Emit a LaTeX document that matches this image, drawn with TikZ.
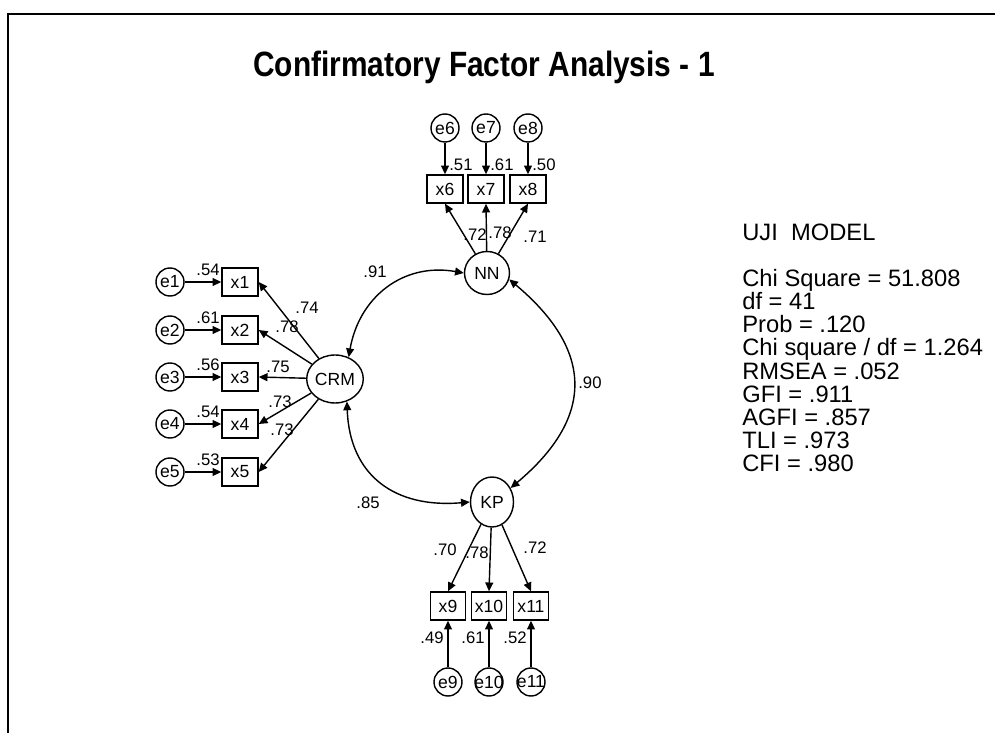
\documentclass[tikz,border=0pt]{standalone}
\usepackage{fontspec}
\setmainfont{Liberation Sans}
\newfontfamily\titlefont[FakeStretch=0.85]{Liberation Sans}
\usetikzlibrary{arrows.meta, positioning, shapes.geometric}

\tikzset{
  latent/.style={draw, ellipse, line width=0.8pt, inner sep=0pt, font=\fontsize{10}{12}\selectfont},
  indic/.style={draw, rectangle, line width=0.8pt, minimum width=0.72cm, minimum height=0.56cm, inner sep=0pt, font=\fontsize{10}{12}\selectfont},
  errc/.style={draw, circle, line width=0.8pt, minimum size=0.56cm, inner sep=0pt, font=\fontsize{10}{12}\selectfont},
  load/.style={-{Triangle[length=5pt,width=4.5pt]}, line width=0.8pt},
  cov/.style={{Triangle[length=5pt,width=4.5pt]}-{Triangle[length=5pt,width=4.5pt]}, line width=0.8pt},
  lbl/.style={font=\fontsize{9.5}{10}\selectfont, inner sep=0pt},
}

\begin{document}
\begin{tikzpicture}[x=0.02cm, y=-0.02cm]
\useasboundingbox (0,0) rectangle (995,733);

%frame
\draw[line width=1.2pt] (8,733) -- (8,14) -- (995,14);

%title
\node[anchor=base, inner sep=0pt, font=\titlefont\bfseries\fontsize{20}{24}\selectfont] (title) at (484,77) {Confirmatory Factor Analysis - 1};

%latent variables
\node[latent, minimum width=1.0cm, minimum height=0.96cm] (CRM) at (335,379) {CRM};
\node[latent, minimum width=0.9cm, minimum height=0.86cm] (NN) at (487,273) {NN};
\node[latent, minimum width=0.86cm, minimum height=1.0cm] (KP) at (492,502) {KP};

%CRM indicators
\foreach \i/\y/\l in {1/282/.54, 2/330/.61, 3/377/.56, 4/424/.54, 5/472/.53} {
  \node[errc] (e\i) at (170,\y) {\makebox[0pt]{e\i}};
  \node[indic] (x\i) at (240,\y) {x\i};
  \draw[load] (e\i) -- (x\i);
  \draw[load] (CRM) -- (x\i.east);
  \node[lbl] (r\i) at (208,\y-12) {\l};
}
\node[lbl] (l1) at (307,308) {.74};
\node[lbl] (l2) at (287,327) {.78};
\node[lbl] (l3) at (278,367) {.75};
\node[lbl] (l4) at (280,402) {.73};
\node[lbl] (l5) at (282,430) {.73};

%NN indicators
\foreach \i/\x/\l in {6/445/.51, 7/486/.61, 8/528/.50} {
  \node[errc] (e\i) at (\x,128) {\makebox[0pt]{e\i}};
  \node[indic] (x\i) at (\x,189) {x\i};
  \draw[load] (e\i) -- (x\i);
  \draw[load] (NN) -- (x\i.south);
  \node[lbl, anchor=west] (r\i) at (\x+4,165) {\l};
}
\node[lbl] (l6) at (475,235) {.72};
\node[lbl] (l7) at (500,233) {.78};
\node[lbl] (l8) at (535,237) {.71};

%KP indicators
\foreach \i/\x/\l in {9/448/.49, 10/489/.61, 11/531/.52} {
  \node[errc] (e\i) at (\x,682) {\makebox[0pt]{e\i}};
  \node[indic, minimum width=0.7cm] (x\i) at (\x,606) {x\i};
  \draw[load] (e\i) -- (x\i);
  \draw[load] (KP) -- (x\i.north);
  \node[lbl, anchor=east] (r\i) at (\x-4,638) {\l};
}
\node[lbl] (l9) at (445,550) {.70};
\node[lbl] (l10) at (477,553) {.78};
\node[lbl] (l11) at (535,548) {.72};

%correlations
\draw[cov] (NN.west) to[out=170, in=80, looseness=1.1] (CRM.58);
\draw[cov] (CRM.-62) to[out=-88, in=185, looseness=1.2] (KP.west);
\draw[cov] (NN.-16) to[out=-40, in=40, looseness=1.35] (KP.37);
\node[lbl] (c1) at (375,272) {.91};
\node[lbl] (c2) at (368,503) {.85};
\node[lbl, anchor=west] (c3) at (578,383) {.90};

%fit indices
\node[anchor=north west, align=left, inner sep=0pt, font=\fontsize{13.5}{13.1}\selectfont] (fit) at (742,224)
  {UJI\ \ MODEL\\[13.1pt]
   Chi Square = 51.808\\
   df = 41\\
   Prob = .120\\
   Chi square / df = 1.264\\
   RMSEA = .052\\
   GFI = .911\\
   AGFI = .857\\
   TLI = .973\\
   CFI = .980};
\end{tikzpicture}
\end{document}
